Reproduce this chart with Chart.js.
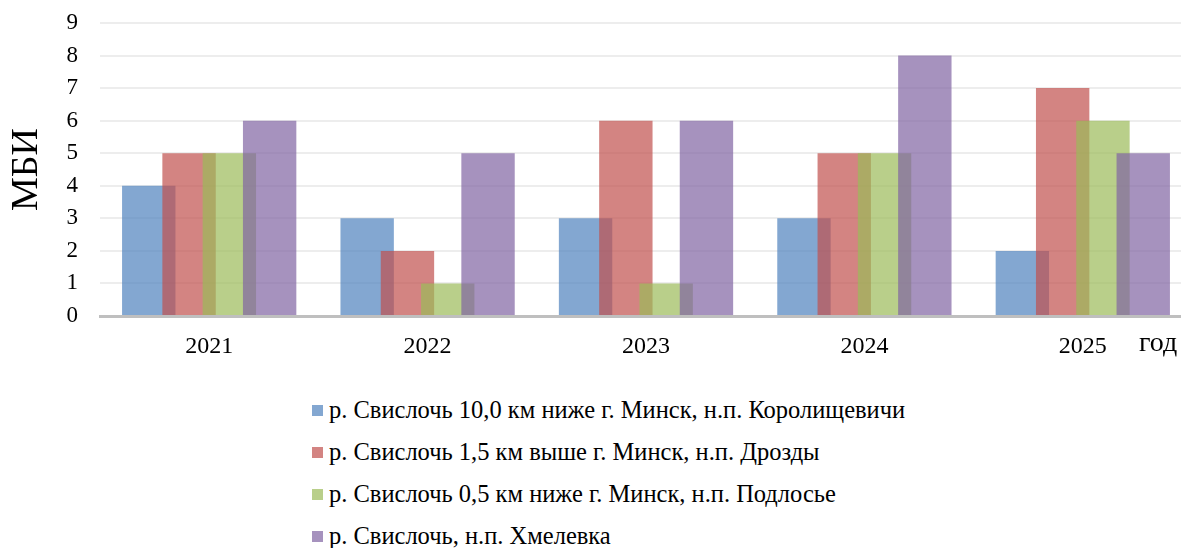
<!DOCTYPE html>
<html lang="ru">
<head>
<meta charset="utf-8">
<title>МБИ</title>
<script src="https://cdn.jsdelivr.net/npm/chart.js@4/dist/chart.umd.min.js"></script>
<style>
    html, body { margin: 0; padding: 0; background: #fff; overflow: hidden; }
    body { width: 1181px; height: 548px; position: relative; font-family: 'Liberation Serif', 'Times New Roman', serif; }
    #wrap { position: absolute; left: 0; top: 0; width: 1192px; height: 376px; }
    #yearLabel { position: absolute; left: 1139px; top: 326px; font-size: 28px; color: #000; }
    #legend { position: absolute; left: 312px; top: 389px; font-size: 24.5px; color: #000; }
    #legend .item { height: 42px; display: flex; align-items: center; white-space: nowrap; }
    #legend .box { width: 11px; height: 11px; margin-right: 6px; }
</style>
</head>
<body>
<div id="wrap"><canvas id="chart" width="1192" height="376"></canvas></div>
<div id="yearLabel">год</div>
<div id="legend"></div>

<script>
// Data
const years = ['2021', '2022', '2023', '2024', '2025'];
const seriesNames = [
    'р. Свислочь 10,0 км ниже г. Минск, н.п. Королищевичи',
    'р. Свислочь 1,5 км выше г. Минск, н.п. Дрозды',
    'р. Свислочь 0,5 км ниже г. Минск, н.п. Подлосье',
    'р. Свислочь, н.п. Хмелевка'
];
const korolishchevichi = [4, 3, 3, 3, 2];
const drozdy = [5, 2, 6, 5, 7];
const podlosye = [5, 1, 1, 5, 6];
const khmelevka = [6, 5, 6, 8, 5];
const yTicks = [0, 1, 2, 3, 4, 5, 6, 7, 8, 9];

const seriesValues = [korolishchevichi, drozdy, podlosye, khmelevka];
const seriesColors = [
    'rgba(79, 129, 189, 0.7)',
    'rgba(192, 80, 77, 0.7)',
    'rgba(155, 187, 89, 0.7)',
    'rgba(128, 100, 162, 0.7)'
];

Chart.defaults.font.family = "'Liberation Serif', 'Times New Roman', serif";
Chart.defaults.color = '#000';

// draw datasets first-to-last so later series sit on top (like the original)
const drawInOrder = {
    id: 'drawInOrder',
    beforeDatasetsDraw(chart) {
        const area = chart.chartArea;
        const ctx = chart.ctx;
        ctx.save();
        ctx.beginPath();
        ctx.rect(area.left, area.top, area.right - area.left, area.bottom - area.top);
        ctx.clip();
        for (let i = 0; i < chart.data.datasets.length; i++) {
            chart.getDatasetMeta(i).controller.draw();
        }
        ctx.restore();
        return false;
    }
};

const ctx = document.getElementById('chart').getContext('2d');
const chart = new Chart(ctx, {
    type: 'bar',
    data: {
        labels: years,
        datasets: seriesValues.map((vals, i) => ({
            label: seriesNames[i],
            data: vals,
            backgroundColor: seriesColors[i],
            borderWidth: 0,
            categoryPercentage: 0.738,
            barPercentage: 1.325
        }))
    },
    options: {
        responsive: false,
        animation: false,
        layout: { padding: { top: 23, left: 0, right: 0, bottom: 0 } },
        plugins: {
            legend: { display: false },
            tooltip: { enabled: false }
        },
        scales: {
            x: {
                grid: { display: false, drawTicks: false },
                border: { display: true, color: '#bfbfbf', width: 3 },
                ticks: { font: { size: 24 }, padding: 16 },
                afterFit(scale) { scale.height = 60; }
            },
            y: {
                min: 0,
                max: 9,
                afterBuildTicks(scale) { scale.ticks = yTicks.map(v => ({ value: v })); },
                grid: { color: '#ededed', lineWidth: 2, drawTicks: false },
                border: { display: false },
                ticks: { font: { size: 23 }, padding: 22 },
                title: {
                    display: true,
                    text: 'МБИ',
                    font: { size: 38 },
                    padding: { top: 4, bottom: 0 }
                },
                afterFit(scale) {
                    scale.width = 100;
                    // tick padding is horizontal only here, not extra room at top
                    scale.paddingTop = 13;
                    scale.paddingBottom = 13;
                }
            }
        }
    },
    plugins: [drawInOrder]
});

// Legend
const legend = document.getElementById('legend');
seriesNames.forEach((name, i) => {
    const item = document.createElement('div');
    item.className = 'item';
    const box = document.createElement('span');
    box.className = 'box';
    box.style.background = seriesColors[i];
    const text = document.createElement('span');
    text.textContent = name;
    item.appendChild(box);
    item.appendChild(text);
    legend.appendChild(item);
});
</script>
</body>
</html>
